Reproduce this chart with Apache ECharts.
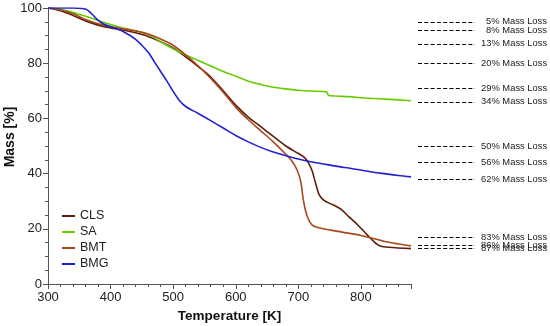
<!DOCTYPE html>
<html>
<head>
<meta charset="utf-8">
<script src="https://cdn.jsdelivr.net/npm/echarts@6/dist/echarts.min.js"></script>
<style>html,body{margin:0;padding:0;background:#fff}#c{width:550px;height:326px}</style>
</head>
<body>
<div id="c"></div>
<script>
const seriesNames = ["CLS", "SA", "BMT", "BMG"];
const CLS = [[300,100],[320,99.0],[340,97.3],[360,95.3],[380,93.8],[400,92.8],[420,92.0],[440,91.0],[460,89.7],[480,87.8],[500,85.5],[520,82.3],[540,78.8],[560,75.0],[580,70.0],[600,64.8],[620,60.5],[640,57.0],[660,53.5],[680,50.0],[700,47.3],[710,45.8],[716,44.0],[722,41.0],[727,37.0],[733,32.5],[740,30.5],[750,29.2],[760,28.2],[770,26.8],[780,24.5],[790,22.5],[800,20.2],[810,17.8],[820,15.5],[830,13.9],[845,13.3],[880,12.8]];
const SA = [[300,100],[320,99.5],[340,98.4],[360,97.0],[380,95.5],[400,94.0],[420,92.7],[440,91.7],[460,90.4],[480,87.8],[500,85.2],[520,83.0],[540,81.0],[560,79.0],[580,77.0],[600,75.3],[620,73.5],[640,72.3],[660,71.3],[680,70.7],[700,70.2],[720,69.9],[745,69.6],[748,68.4],[760,68.1],[780,67.9],[800,67.5],[820,67.2],[840,67.0],[860,66.7],[880,66.4]];
const BMT = [[300,100],[320,99.3],[340,98.0],[360,95.8],[380,94.3],[400,93.3],[420,92.5],[440,91.7],[460,90.6],[480,88.8],[500,86.5],[520,83.0],[540,79.0],[560,74.5],[580,69.5],[600,64.0],[620,59.5],[640,55.5],[660,51.5],[680,47.0],[690,44.5],[698,41.3],[704,37.0],[707,32.0],[711,27.0],[716,23.5],[723,21.2],[740,20.0],[770,18.8],[800,17.6],[820,16.5],[840,15.3],[860,14.5],[880,13.8]];
const BMG = [[300,100],[340,100],[355,99.8],[362,99.4],[368,98.3],[378,96.0],[388,94.3],[400,93.2],[420,91.5],[440,88.6],[460,84.0],[470,80.5],[480,77.0],[490,73.5],[500,69.8],[510,66.5],[520,64.3],[540,61.8],[560,59.2],[580,56.5],[600,53.8],[620,51.5],[640,49.5],[660,47.8],[680,46.5],[700,45.3],[720,44.3],[740,43.5],[760,42.7],[780,42.0],[800,41.3],[820,40.5],[840,39.9],[860,39.3],[880,38.8]];
const massLoss = [5, 8, 13, 20, 29, 34, 50, 56, 62, 83, 86, 87];
const colors = {CLS:"#5e1f0c", SA:"#66cc00", BMT:"#a8481c", BMG:"#2020d0"};
const dataMap = {CLS, SA, BMT, BMG};
const FONT = "Liberation Sans";

const chart = echarts.init(document.getElementById('c'), null, {renderer:'canvas'});
const series = seriesNames.map(n => ({
  name: n, type: 'line', data: dataMap[n], showSymbol: false, smooth: 0.3,
  lineStyle: {color: colors[n], width: 1.6}, itemStyle: {color: colors[n]},
  xAxisIndex: 0, yAxisIndex: 0, z: 3
}));
series.push({
  type: 'line', data: [], xAxisIndex: 1, yAxisIndex: 1, silent: true,
  markLine: {
    symbol: 'none', silent: true, animation: false,
    lineStyle: {type: [4, 2.3], color: '#000', width: 1},
    label: {position: 'end', distance: 7, color: '#222', fontFamily: FONT, fontSize: 9.4,
      formatter: p => p.name},
    data: massLoss.map(l => ({yAxis: 100 - l, name: l + '% Mass Loss',
      label: {distance: l < 10 ? 11 : 6}}))
  }
});
chart.setOption({
  animation: false,
  textStyle: {fontFamily: FONT},
  grid: [
    {left: 48, top: 8, width: 363, height: 276, outerBoundsMode: 'none', containLabel: false},
    {left: 418, top: 8, width: 57, height: 276, outerBoundsMode: 'none', containLabel: false}
  ],
  legend: {
    orient: 'vertical', left: 57, top: 204, itemWidth: 13, itemHeight: 2, icon: 'rect',
    itemGap: 2, data: seriesNames,
    textStyle: {fontFamily: FONT, fontSize: 12.5, color: '#222', lineHeight: 14}
  },
  xAxis: [
    {type: 'value', min: 300, max: 880, interval: 100, gridIndex: 0,
     name: 'Temperature [K]', nameLocation: 'middle', nameGap: 25, nameMoveOverlap: false,
     nameTextStyle: {fontFamily: FONT, fontSize: 13.5, fontWeight: 'bold', color: '#111'},
     axisLine: {lineStyle: {color: '#555'}},
     axisTick: {length: 5, lineStyle: {color: '#555'}},
     minorTick: {show: true, splitNumber: 5, length: 3, lineStyle: {color: '#555'}},
     axisLabel: {fontSize: 13, color: '#222', margin: 7, showMaxLabel: false, fontFamily: FONT},
     splitLine: {show: false}},
    {type: 'value', min: 0, max: 1, gridIndex: 1, show: false}
  ],
  yAxis: [
    {type: 'value', min: 0, max: 100, interval: 20, gridIndex: 0,
     name: 'Mass [%]', nameLocation: 'middle', nameGap: 31, nameMoveOverlap: false,
     nameTextStyle: {fontFamily: FONT, fontSize: 14, fontWeight: 'bold', color: '#111',
       padding: [0, 0, 0, 18]},
     axisLine: {show: true, lineStyle: {color: '#555'}},
     axisTick: {show: true, length: 5, lineStyle: {color: '#555'}},
     minorTick: {show: true, splitNumber: 4, length: 3, lineStyle: {color: '#555'}},
     axisLabel: {fontSize: 13, color: '#222', margin: 6, fontFamily: FONT},
     splitLine: {show: false}},
    {type: 'value', min: 0, max: 100, gridIndex: 1, show: false}
  ],
  series
});
</script>
</body>
</html>
